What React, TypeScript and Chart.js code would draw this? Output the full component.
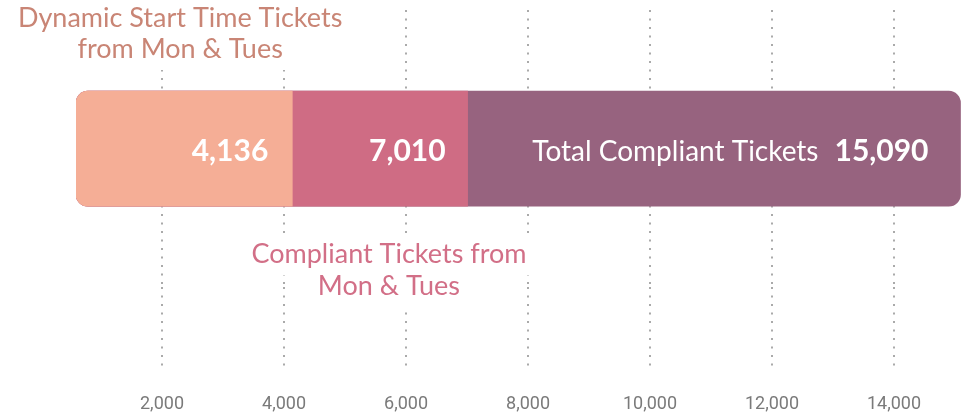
import React, { useEffect, useRef } from "react";
import { Chart, registerables } from "chart.js";

Chart.register(...registerables);

// Ticket counts (cumulative end values of each segment)
const CATEGORY = ["Tickets"];
const DYNAMIC_MON_TUE = [4136];
const COMPLIANT_MON_TUE = [7010];
const TOTAL_COMPLIANT = [15090];

// Axis range and tick marks
const X_MIN = 590;
const X_MAX = 15180;
const X_TICKS = [2000, 4000, 6000, 8000, 10000, 12000, 14000];

// Annotation texts
const TITLE_LINES = ["Dynamic Start Time Tickets", "from Mon & Tues"];
const SUBTITLE_LINES = ["Compliant Tickets from", "Mon & Tues"];
const TOTAL_LABEL = "Total Compliant Tickets";

const PEACH = "#F5AE96";
const PINK = "#CF6C84";
const PURPLE = "#97637F";
const TITLE_COLOR = "#C98575";
const SUBTITLE_COLOR = "#D26F87";
const TEXT_FONT = "Lato";

const TICK_LEN = 82;
const TICK_PAD = 24;
const TICK_FONT_SIZE = 18;

const fmt = (v: number) => v.toLocaleString("en-US");

const labelsPlugin = {
  id: "ticketLabels",
  afterDatasetsDraw(chart: any) {
    const ctx: CanvasRenderingContext2D = chart.ctx;
    const peach = chart.getDatasetMeta(0).data[0];
    const pink = chart.getDatasetMeta(1).data[0];
    const total = chart.getDatasetMeta(2).data[0];
    const left = chart.chartArea.left;
    const baseY = peach.y + 12;

    ctx.save();
    ctx.fillStyle = "#ffffff";
    ctx.textBaseline = "alphabetic";
    ctx.textAlign = "right";

    ctx.font = `bold 30px ${TEXT_FONT}`;
    ctx.fillText(fmt(DYNAMIC_MON_TUE[0]), peach.x - 24, baseY);
    ctx.fillText(fmt(COMPLIANT_MON_TUE[0]), pink.x - 22, baseY);
    const totalText = fmt(TOTAL_COMPLIANT[0]);
    const totalRight = total.x - 32;
    ctx.fillText(totalText, totalRight, baseY);
    const totalW = ctx.measureText(totalText).width;
    ctx.font = `28px ${TEXT_FONT}`;
    ctx.fillText(TOTAL_LABEL, totalRight - totalW - 16, baseY);

    // annotation blocks with white backing so grid dots stop around them
    const drawBlock = (lines: string[], cx: number, baselines: number[], color: string) => {
      ctx.font = `27px ${TEXT_FONT}`;
      ctx.textAlign = "center";
      lines.forEach((line, i) => {
        const w = ctx.measureText(line).width;
        ctx.fillStyle = "#ffffff";
        ctx.fillRect(cx - w / 2 - 6, baselines[i] - 25, w + 12, 37);
      });
      ctx.fillStyle = color;
      lines.forEach((line, i) => ctx.fillText(line, cx, baselines[i]));
    };

    const peachCenter = (left + peach.x) / 2;
    drawBlock(TITLE_LINES, peachCenter - 4, [27, 58], TITLE_COLOR);
    const pinkCenter = (peach.x + pink.x) / 2;
    drawBlock(SUBTITLE_LINES, pinkCenter + 9, [263, 295], SUBTITLE_COLOR);

    ctx.restore();
  },
};

export default function App() {
  const canvasRef = useRef<HTMLCanvasElement | null>(null);

  useEffect(() => {
    document.body.style.margin = "0";
    const canvas = canvasRef.current;
    if (!canvas) return;

    const shared = {
      base: X_MIN,
      grouped: false,
      barThickness: 115,
      borderSkipped: false,
    };

    const chart = new Chart(canvas, {
      type: "bar",
      data: {
        labels: CATEGORY,
        datasets: [
          {
            ...shared,
            label: TITLE_LINES.join(" "),
            data: DYNAMIC_MON_TUE,
            backgroundColor: PEACH,
            borderRadius: { topLeft: 12, bottomLeft: 12, topRight: 0, bottomRight: 0 },
          },
          {
            ...shared,
            label: SUBTITLE_LINES.join(" "),
            data: COMPLIANT_MON_TUE,
            backgroundColor: PINK,
            borderRadius: { topLeft: 12, bottomLeft: 12, topRight: 0, bottomRight: 0 },
          },
          {
            ...shared,
            label: TOTAL_LABEL,
            data: TOTAL_COMPLIANT,
            backgroundColor: PURPLE,
            borderRadius: 12,
          },
        ],
      } as any,
      options: {
        indexAxis: "y",
        responsive: false,
        animation: false,
        layout: { padding: { left: 76, right: 1, top: 10, bottom: 5 } },
        plugins: {
          legend: { display: false },
          tooltip: { enabled: false },
        },
        scales: {
          x: {
            type: "linear",
            position: "bottom",
            min: X_MIN,
            max: X_MAX,
            afterBuildTicks: (scale: any) => {
              scale.ticks = X_TICKS.map((value) => ({ value }));
            },
            afterFit: (scale: any) => {
              scale.height = TICK_LEN + TICK_PAD + TICK_FONT_SIZE * 1.2;
            },
            grid: {
              color: "#aaaaaa",
              lineWidth: 2,
              drawTicks: true,
              tickLength: TICK_LEN,
              tickBorderDash: [2, 6.5],
            },
            border: { display: false, dash: [2, 6.5] },
            ticks: {
              padding: TICK_PAD,
              color: "#7a7a7a",
              font: { family: "Roboto", size: TICK_FONT_SIZE },
              callback: (v: any) => fmt(Number(v)),
            },
          },
          y: { display: false },
        },
      } as any,
      plugins: [labelsPlugin],
    });

    return () => chart.destroy();
  }, []);

  return (
    <div style={{ width: 967, height: 420 }}>
      <canvas ref={canvasRef} width={967} height={420} style={{ display: "block" }} />
    </div>
  );
}
